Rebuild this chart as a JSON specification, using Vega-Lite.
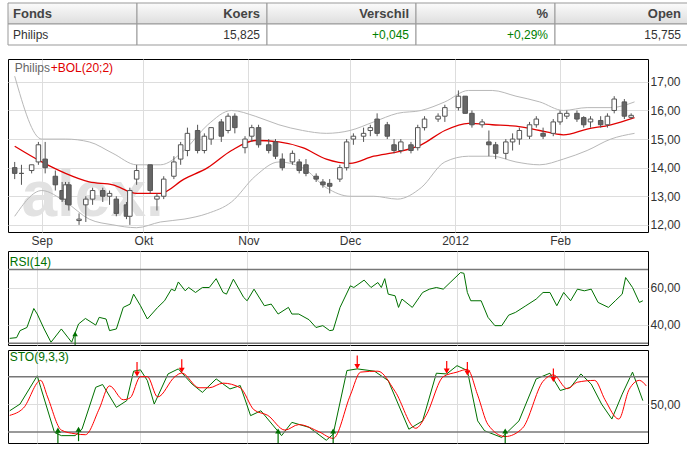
{
  "$schema": "https://vega.github.io/schema/vega-lite/v6.json",
  "description": "Philips koers met Bollinger, RSI en Stochastic",
  "padding": {"left": 6, "top": 2, "right": 0, "bottom": 0},
  "spacing": 3,
  "config": {
    "font": "Liberation Sans",
    "view": {"stroke": "#000"},
    "axis": {"gridColor": "#dddddd", "labelColor": "#333", "labelFontSize": 12, "ticks": false, "domain": false, "title": null, "labelOverlap": false},
    "axisY": {"labelPadding": 2}
  },
  "datasets": {
    "header": [
      {"col": "Fonds", "head": "Fonds", "val": "Philips", "x0": 6, "x1": 135, "color": "#333"},
      {"col": "Koers", "head": "Koers", "val": "15,825", "x0": 135, "x1": 265, "color": "#333"},
      {"col": "Verschil", "head": "Verschil", "val": "+0,045", "x0": 265, "x1": 414, "color": "#008000"},
      {"col": "%", "head": "%", "val": "+0,29%", "x0": 414, "x1": 553, "color": "#008000"},
      {"col": "Open", "head": "Open", "val": "15,755", "x0": 553, "x1": 686, "color": "#333"}
    ],
    "candles": [
      {"date": "2011-08-24", "open": 14.0, "high": 14.2, "low": 13.6, "close": 13.8},
      {"date": "2011-08-26", "open": 13.8, "high": 14.1, "low": 13.4, "close": 13.8},
      {"date": "2011-08-29", "open": 13.9, "high": 14.1, "low": 13.8, "close": 14.1},
      {"date": "2011-08-31", "open": 14.2, "high": 14.9, "low": 14.1, "close": 14.8},
      {"date": "2011-09-02", "open": 14.3, "high": 14.9, "low": 13.8, "close": 14.0},
      {"date": "2011-09-05", "open": 13.7, "high": 13.9, "low": 13.2, "close": 13.4},
      {"date": "2011-09-07", "open": 13.2, "high": 13.5, "low": 12.8, "close": 12.9},
      {"date": "2011-09-08", "open": 12.9, "high": 13.5, "low": 12.7, "close": 13.4},
      {"date": "2011-09-09", "open": 13.4, "high": 13.5, "low": 12.5, "close": 12.7},
      {"date": "2011-09-12", "open": 12.15, "high": 12.4, "low": 12.0, "close": 12.2},
      {"date": "2011-09-14", "open": 12.7, "high": 13.0, "low": 12.1, "close": 12.9},
      {"date": "2011-09-16", "open": 12.9, "high": 13.3, "low": 12.7, "close": 13.2},
      {"date": "2011-09-19", "open": 13.2, "high": 13.3, "low": 12.8, "close": 13.0},
      {"date": "2011-09-21", "open": 13.0, "high": 13.2, "low": 12.7, "close": 13.1},
      {"date": "2011-09-23", "open": 12.9, "high": 13.0, "low": 12.3, "close": 12.4},
      {"date": "2011-09-26", "open": 12.7, "high": 12.8, "low": 12.2, "close": 12.3},
      {"date": "2011-09-27", "open": 12.3, "high": 13.3, "low": 12.0, "close": 13.2},
      {"date": "2011-09-29", "open": 13.6, "high": 14.1, "low": 13.4, "close": 13.9},
      {"date": "2011-10-03", "open": 14.1, "high": 14.1, "low": 13.1, "close": 13.2},
      {"date": "2011-10-05", "open": 12.9, "high": 13.1, "low": 12.5, "close": 13.0},
      {"date": "2011-10-07", "open": 13.0, "high": 13.7, "low": 12.9, "close": 13.6},
      {"date": "2011-10-10", "open": 13.7, "high": 14.4, "low": 13.6, "close": 14.2},
      {"date": "2011-10-12", "open": 14.3, "high": 14.9, "low": 14.1, "close": 14.8},
      {"date": "2011-10-14", "open": 14.6, "high": 15.4, "low": 14.4, "close": 15.2},
      {"date": "2011-10-17", "open": 15.3, "high": 15.5, "low": 14.5, "close": 14.6},
      {"date": "2011-10-19", "open": 14.6, "high": 15.2, "low": 14.5, "close": 15.1},
      {"date": "2011-10-21", "open": 15.0, "high": 15.4, "low": 14.8, "close": 15.4},
      {"date": "2011-10-24", "open": 15.6, "high": 15.7, "low": 14.9, "close": 15.1},
      {"date": "2011-10-26", "open": 15.3, "high": 15.9, "low": 15.2, "close": 15.8},
      {"date": "2011-10-28", "open": 15.8, "high": 15.9, "low": 15.2, "close": 15.4},
      {"date": "2011-10-31", "open": 14.7, "high": 15.1, "low": 14.5, "close": 15.0},
      {"date": "2011-11-02", "open": 15.1, "high": 15.5, "low": 14.9, "close": 15.4},
      {"date": "2011-11-04", "open": 15.4, "high": 15.5, "low": 14.7, "close": 14.8},
      {"date": "2011-11-07", "open": 14.8, "high": 15.0, "low": 14.5, "close": 14.6},
      {"date": "2011-11-09", "open": 14.9, "high": 15.0, "low": 14.3, "close": 14.4},
      {"date": "2011-11-11", "open": 14.3, "high": 14.5, "low": 13.9, "close": 14.0},
      {"date": "2011-11-14", "open": 14.2, "high": 14.6, "low": 14.1, "close": 14.5},
      {"date": "2011-11-16", "open": 14.2, "high": 14.3, "low": 13.8, "close": 13.9},
      {"date": "2011-11-18", "open": 14.1, "high": 14.3, "low": 13.7, "close": 13.8},
      {"date": "2011-11-21", "open": 13.7, "high": 13.8, "low": 13.5, "close": 13.6},
      {"date": "2011-11-23", "open": 13.5, "high": 13.6, "low": 13.3, "close": 13.4},
      {"date": "2011-11-25", "open": 13.45, "high": 13.6, "low": 13.1, "close": 13.35},
      {"date": "2011-11-28", "open": 13.6, "high": 14.1, "low": 13.5, "close": 14.0},
      {"date": "2011-11-30", "open": 14.0, "high": 15.0, "low": 13.9, "close": 14.9},
      {"date": "2011-12-02", "open": 15.0, "high": 15.2, "low": 14.8, "close": 15.1},
      {"date": "2011-12-05", "open": 15.1, "high": 15.4, "low": 14.9, "close": 15.2},
      {"date": "2011-12-07", "open": 15.3, "high": 15.5, "low": 15.1, "close": 15.4},
      {"date": "2011-12-09", "open": 15.7, "high": 15.9, "low": 15.1, "close": 15.2},
      {"date": "2011-12-12", "open": 15.5, "high": 15.6, "low": 15.0, "close": 15.1},
      {"date": "2011-12-14", "open": 14.8, "high": 15.0, "low": 14.5, "close": 14.6},
      {"date": "2011-12-16", "open": 14.6, "high": 15.0, "low": 14.5, "close": 14.9},
      {"date": "2011-12-19", "open": 14.8, "high": 14.9, "low": 14.5, "close": 14.6},
      {"date": "2011-12-21", "open": 14.7, "high": 15.5, "low": 14.6, "close": 15.4},
      {"date": "2011-12-23", "open": 15.4, "high": 15.8, "low": 15.3, "close": 15.7},
      {"date": "2011-12-27", "open": 15.7, "high": 15.9, "low": 15.6, "close": 15.8},
      {"date": "2011-12-29", "open": 15.8, "high": 16.2, "low": 15.6, "close": 16.1},
      {"date": "2012-01-02", "open": 16.1, "high": 16.7, "low": 16.0, "close": 16.5},
      {"date": "2012-01-04", "open": 16.5, "high": 16.5, "low": 15.9, "close": 15.9},
      {"date": "2012-01-06", "open": 15.9, "high": 16.0, "low": 15.4, "close": 15.5},
      {"date": "2012-01-09", "open": 15.5, "high": 15.7, "low": 15.4, "close": 15.6},
      {"date": "2012-01-11", "open": 14.9, "high": 15.3, "low": 14.4, "close": 14.8},
      {"date": "2012-01-13", "open": 14.8, "high": 14.9, "low": 14.3, "close": 14.5},
      {"date": "2012-01-16", "open": 14.5, "high": 15.0, "low": 14.3, "close": 14.9},
      {"date": "2012-01-18", "open": 14.9, "high": 15.2, "low": 14.6, "close": 15.0},
      {"date": "2012-01-20", "open": 15.0, "high": 15.4, "low": 14.8, "close": 15.3},
      {"date": "2012-01-23", "open": 15.1, "high": 15.6, "low": 15.0, "close": 15.5},
      {"date": "2012-01-25", "open": 15.5, "high": 15.8, "low": 15.4, "close": 15.7},
      {"date": "2012-01-27", "open": 15.2, "high": 15.4, "low": 15.0, "close": 15.1},
      {"date": "2012-01-30", "open": 15.2, "high": 15.7, "low": 15.1, "close": 15.6},
      {"date": "2012-02-01", "open": 15.6, "high": 16.0, "low": 15.5, "close": 15.9},
      {"date": "2012-02-03", "open": 15.8, "high": 16.0, "low": 15.7, "close": 15.9},
      {"date": "2012-02-06", "open": 15.9, "high": 16.0, "low": 15.6, "close": 15.7},
      {"date": "2012-02-08", "open": 15.75, "high": 15.8, "low": 15.4, "close": 15.5},
      {"date": "2012-02-10", "open": 15.6, "high": 15.8, "low": 15.4, "close": 15.7},
      {"date": "2012-02-13", "open": 15.65, "high": 15.8, "low": 15.4, "close": 15.5},
      {"date": "2012-02-15", "open": 15.5, "high": 15.9, "low": 15.4, "close": 15.8},
      {"date": "2012-02-17", "open": 16.0, "high": 16.5, "low": 15.9, "close": 16.4},
      {"date": "2012-02-20", "open": 16.3, "high": 16.4, "low": 15.7, "close": 15.8},
      {"date": "2012-02-22", "open": 15.76, "high": 15.9, "low": 15.7, "close": 15.83}
    ],
    "bol": [
      {"date": "2011-08-24", "mid": 14.75, "upper": 17.2, "lower": 12.3},
      {"date": "2011-09-01", "mid": 14.2, "upper": 15.0, "lower": 13.2},
      {"date": "2011-09-08", "mid": 13.8, "upper": 15.0, "lower": 12.8},
      {"date": "2011-09-15", "mid": 13.5, "upper": 14.9, "lower": 12.2},
      {"date": "2011-09-22", "mid": 13.4, "upper": 14.5, "lower": 12.0},
      {"date": "2011-09-29", "mid": 13.1, "upper": 14.1, "lower": 11.9},
      {"date": "2011-10-06", "mid": 13.1, "upper": 14.1, "lower": 12.1},
      {"date": "2011-10-13", "mid": 13.6, "upper": 14.6, "lower": 12.2},
      {"date": "2011-10-20", "mid": 14.0, "upper": 15.5, "lower": 12.4},
      {"date": "2011-10-27", "mid": 14.6, "upper": 16.0, "lower": 12.8},
      {"date": "2011-11-03", "mid": 14.95, "upper": 15.8, "lower": 13.7},
      {"date": "2011-11-10", "mid": 14.9, "upper": 15.5, "lower": 14.2},
      {"date": "2011-11-17", "mid": 14.7, "upper": 15.3, "lower": 14.0},
      {"date": "2011-11-24", "mid": 14.3, "upper": 15.2, "lower": 13.3},
      {"date": "2011-12-01", "mid": 14.15, "upper": 15.3, "lower": 13.0},
      {"date": "2011-12-08", "mid": 14.4, "upper": 15.6, "lower": 13.0},
      {"date": "2011-12-15", "mid": 14.55, "upper": 15.9, "lower": 12.9},
      {"date": "2011-12-22", "mid": 14.8, "upper": 16.0, "lower": 13.3},
      {"date": "2011-12-29", "mid": 15.3, "upper": 16.3, "lower": 14.2},
      {"date": "2012-01-05", "mid": 15.55, "upper": 16.7, "lower": 14.4},
      {"date": "2012-01-12", "mid": 15.5, "upper": 16.7, "lower": 14.4},
      {"date": "2012-01-19", "mid": 15.45, "upper": 16.5, "lower": 14.2},
      {"date": "2012-01-26", "mid": 15.3, "upper": 16.3, "lower": 14.1},
      {"date": "2012-02-02", "mid": 15.15, "upper": 16.0, "lower": 14.3},
      {"date": "2012-02-09", "mid": 15.35, "upper": 16.1, "lower": 14.6},
      {"date": "2012-02-16", "mid": 15.5, "upper": 16.1, "lower": 15.0},
      {"date": "2012-02-23", "mid": 15.75, "upper": 16.3, "lower": 15.2}
    ],
    "rsi": [
      {"date": "2011-08-24", "rsi": 32.6}, {"date": "2011-08-26", "rsi": 33}, {"date": "2011-08-27", "rsi": 36.8},
      {"date": "2011-08-29", "rsi": 38.5}, {"date": "2011-08-31", "rsi": 48.8}, {"date": "2011-09-01", "rsi": 45.8},
      {"date": "2011-09-03", "rsi": 37.7}, {"date": "2011-09-05", "rsi": 30.5}, {"date": "2011-09-08", "rsi": 37.7},
      {"date": "2011-09-10", "rsi": 32.9}, {"date": "2011-09-11", "rsi": 30.5}, {"date": "2011-09-13", "rsi": 40.4},
      {"date": "2011-09-15", "rsi": 43.4}, {"date": "2011-09-18", "rsi": 39.8}, {"date": "2011-09-19", "rsi": 44},
      {"date": "2011-09-21", "rsi": 43.1}, {"date": "2011-09-22", "rsi": 36.8}, {"date": "2011-09-24", "rsi": 37.7},
      {"date": "2011-09-26", "rsi": 49.4}, {"date": "2011-09-28", "rsi": 51.2}, {"date": "2011-09-29", "rsi": 56.6},
      {"date": "2011-10-01", "rsi": 50.3}, {"date": "2011-10-03", "rsi": 43.1}, {"date": "2011-10-06", "rsi": 49.4},
      {"date": "2011-10-08", "rsi": 53}, {"date": "2011-10-10", "rsi": 59.3}, {"date": "2011-10-11", "rsi": 58.4},
      {"date": "2011-10-12", "rsi": 63.2}, {"date": "2011-10-14", "rsi": 58.4}, {"date": "2011-10-15", "rsi": 60.2},
      {"date": "2011-10-17", "rsi": 57.5}, {"date": "2011-10-19", "rsi": 60.2}, {"date": "2011-10-21", "rsi": 60.2},
      {"date": "2011-10-23", "rsi": 65}, {"date": "2011-10-25", "rsi": 57.5}, {"date": "2011-10-26", "rsi": 56.6},
      {"date": "2011-10-28", "rsi": 64.7}, {"date": "2011-10-31", "rsi": 54.8}, {"date": "2011-11-01", "rsi": 53},
      {"date": "2011-11-03", "rsi": 59.3}, {"date": "2011-11-06", "rsi": 50.3}, {"date": "2011-11-08", "rsi": 51.2},
      {"date": "2011-11-10", "rsi": 45.8}, {"date": "2011-11-13", "rsi": 49.4}, {"date": "2011-11-14", "rsi": 45.8},
      {"date": "2011-11-16", "rsi": 45.8}, {"date": "2011-11-19", "rsi": 42.7}, {"date": "2011-11-21", "rsi": 38.5},
      {"date": "2011-11-23", "rsi": 39.5}, {"date": "2011-11-25", "rsi": 36.8}, {"date": "2011-11-26", "rsi": 37.1},
      {"date": "2011-11-28", "rsi": 49.4}, {"date": "2011-12-01", "rsi": 61.1}, {"date": "2011-12-02", "rsi": 60.2},
      {"date": "2011-12-05", "rsi": 64.2}, {"date": "2011-12-07", "rsi": 60.2}, {"date": "2011-12-09", "rsi": 62.9},
      {"date": "2011-12-10", "rsi": 60.2}, {"date": "2011-12-11", "rsi": 65}, {"date": "2011-12-12", "rsi": 56.6},
      {"date": "2011-12-14", "rsi": 55.7}, {"date": "2011-12-15", "rsi": 49.4}, {"date": "2011-12-16", "rsi": 53.9},
      {"date": "2011-12-19", "rsi": 49.4}, {"date": "2011-12-21", "rsi": 54.8}, {"date": "2011-12-22", "rsi": 57.5},
      {"date": "2011-12-24", "rsi": 59.3}, {"date": "2011-12-26", "rsi": 60.2}, {"date": "2011-12-28", "rsi": 59.3},
      {"date": "2011-12-30", "rsi": 62.9}, {"date": "2012-01-02", "rsi": 68.3}, {"date": "2012-01-03", "rsi": 67.9},
      {"date": "2012-01-04", "rsi": 57.5}, {"date": "2012-01-05", "rsi": 53}, {"date": "2012-01-08", "rsi": 53},
      {"date": "2012-01-10", "rsi": 44}, {"date": "2012-01-12", "rsi": 39.5}, {"date": "2012-01-14", "rsi": 39.5},
      {"date": "2012-01-16", "rsi": 45.2}, {"date": "2012-01-18", "rsi": 46.7}, {"date": "2012-01-21", "rsi": 50.3},
      {"date": "2012-01-24", "rsi": 53.9}, {"date": "2012-01-26", "rsi": 57.5}, {"date": "2012-01-28", "rsi": 57.5},
      {"date": "2012-01-30", "rsi": 50.3}, {"date": "2012-02-01", "rsi": 57.5}, {"date": "2012-02-03", "rsi": 53},
      {"date": "2012-02-05", "rsi": 59.3}, {"date": "2012-02-07", "rsi": 58.4}, {"date": "2012-02-09", "rsi": 59.3},
      {"date": "2012-02-11", "rsi": 52.1}, {"date": "2012-02-14", "rsi": 49.4}, {"date": "2012-02-16", "rsi": 53},
      {"date": "2012-02-18", "rsi": 56.6}, {"date": "2012-02-19", "rsi": 65.6}, {"date": "2012-02-21", "rsi": 60.2},
      {"date": "2012-02-23", "rsi": 52.1}, {"date": "2012-02-24", "rsi": 53}
    ],
    "stok": [
      {"date": "2011-08-24", "v": 43}, {"date": "2011-08-27", "v": 50.3}, {"date": "2011-09-01", "v": 81},
      {"date": "2011-09-02", "v": 68.5}, {"date": "2011-09-06", "v": 19.5}, {"date": "2011-09-08", "v": 16},
      {"date": "2011-09-12", "v": 16}, {"date": "2011-09-14", "v": 23}, {"date": "2011-09-18", "v": 68.5},
      {"date": "2011-09-20", "v": 71.5}, {"date": "2011-09-24", "v": 46.7}, {"date": "2011-09-27", "v": 54},
      {"date": "2011-09-29", "v": 86}, {"date": "2011-10-01", "v": 87.4}, {"date": "2011-10-03", "v": 75.8},
      {"date": "2011-10-05", "v": 50.3}, {"date": "2011-10-09", "v": 83}, {"date": "2011-10-12", "v": 88.5},
      {"date": "2011-10-16", "v": 72}, {"date": "2011-10-19", "v": 63}, {"date": "2011-10-23", "v": 77.6},
      {"date": "2011-10-27", "v": 66.7}, {"date": "2011-10-30", "v": 70.4}, {"date": "2011-11-02", "v": 37.7},
      {"date": "2011-11-05", "v": 43}, {"date": "2011-11-11", "v": 16}, {"date": "2011-11-14", "v": 30.4},
      {"date": "2011-11-19", "v": 25}, {"date": "2011-11-24", "v": 11}, {"date": "2011-11-26", "v": 17.6},
      {"date": "2011-11-30", "v": 86.7}, {"date": "2011-12-03", "v": 88.5}, {"date": "2011-12-08", "v": 86},
      {"date": "2011-12-12", "v": 75.8}, {"date": "2011-12-18", "v": 23}, {"date": "2011-12-22", "v": 32},
      {"date": "2011-12-26", "v": 83.8}, {"date": "2011-12-29", "v": 83}, {"date": "2012-01-01", "v": 92},
      {"date": "2012-01-04", "v": 86.7}, {"date": "2012-01-07", "v": 32}, {"date": "2012-01-09", "v": 21.3},
      {"date": "2012-01-14", "v": 14}, {"date": "2012-01-19", "v": 32}, {"date": "2012-01-24", "v": 77.6},
      {"date": "2012-01-28", "v": 83.8}, {"date": "2012-01-31", "v": 65}, {"date": "2012-02-03", "v": 68.5},
      {"date": "2012-02-06", "v": 83}, {"date": "2012-02-09", "v": 72}, {"date": "2012-02-12", "v": 50.3},
      {"date": "2012-02-15", "v": 34}, {"date": "2012-02-18", "v": 61}, {"date": "2012-02-21", "v": 85},
      {"date": "2012-02-24", "v": 54}
    ],
    "stod": [
      {"date": "2011-08-24", "v": 38}, {"date": "2011-08-28", "v": 46}, {"date": "2011-09-02", "v": 76},
      {"date": "2011-09-04", "v": 58}, {"date": "2011-09-08", "v": 22}, {"date": "2011-09-12", "v": 18},
      {"date": "2011-09-15", "v": 17}, {"date": "2011-09-19", "v": 45}, {"date": "2011-09-22", "v": 70},
      {"date": "2011-09-26", "v": 55}, {"date": "2011-09-28", "v": 57}, {"date": "2011-10-01", "v": 80},
      {"date": "2011-10-03", "v": 80}, {"date": "2011-10-06", "v": 58}, {"date": "2011-10-11", "v": 80},
      {"date": "2011-10-13", "v": 84}, {"date": "2011-10-18", "v": 68}, {"date": "2011-10-21", "v": 68},
      {"date": "2011-10-25", "v": 73}, {"date": "2011-10-30", "v": 68}, {"date": "2011-11-03", "v": 44},
      {"date": "2011-11-07", "v": 38}, {"date": "2011-11-12", "v": 22}, {"date": "2011-11-16", "v": 28},
      {"date": "2011-11-22", "v": 20}, {"date": "2011-11-26", "v": 13}, {"date": "2011-12-01", "v": 60},
      {"date": "2011-12-04", "v": 85}, {"date": "2011-12-09", "v": 86}, {"date": "2011-12-14", "v": 64},
      {"date": "2011-12-20", "v": 24}, {"date": "2011-12-23", "v": 38}, {"date": "2011-12-28", "v": 80},
      {"date": "2012-01-01", "v": 85}, {"date": "2012-01-04", "v": 88}, {"date": "2012-01-07", "v": 60},
      {"date": "2012-01-10", "v": 28}, {"date": "2012-01-15", "v": 15}, {"date": "2012-01-20", "v": 24},
      {"date": "2012-01-26", "v": 75}, {"date": "2012-01-29", "v": 82}, {"date": "2012-02-02", "v": 67},
      {"date": "2012-02-05", "v": 74}, {"date": "2012-02-10", "v": 76}, {"date": "2012-02-13", "v": 55},
      {"date": "2012-02-17", "v": 34}, {"date": "2012-02-20", "v": 66}, {"date": "2012-02-23", "v": 76},
      {"date": "2012-02-25", "v": 70}
    ],
    "arrows": [
      {"date": "2011-09-30", "tip": 83, "tail": 96, "dir": "down"},
      {"date": "2011-10-13", "tip": 87, "tail": 99, "dir": "down"},
      {"date": "2011-12-03", "tip": 91, "tail": 103, "dir": "down"},
      {"date": "2011-12-29", "tip": 86, "tail": 97, "dir": "down"},
      {"date": "2012-01-04", "tip": 84, "tail": 96, "dir": "down"},
      {"date": "2012-01-29", "tip": 77, "tail": 89, "dir": "down"},
      {"date": "2011-09-07", "tip": 22, "tail": 8, "dir": "up"},
      {"date": "2011-09-13", "tip": 23, "tail": 10, "dir": "up"},
      {"date": "2011-11-10", "tip": 21, "tail": 8, "dir": "up"},
      {"date": "2011-11-26", "tip": 21, "tail": 8, "dir": "up"},
      {"date": "2012-01-15", "tip": 21, "tail": 8, "dir": "up"}
    ]
  },
  "vconcat": [
    {
      "width": 680,
      "height": 52,
      "view": {"stroke": null},
      "data": {"name": "header"},
      "layer": [
        {
          "mark": {"type": "rect", "stroke": "#999", "strokeWidth": 1,
            "fill": {"gradient": "linear", "x1": 0, "y1": 0, "x2": 0, "y2": 1,
              "stops": [{"offset": 0, "color": "#fbfbfb"}, {"offset": 1, "color": "#dedede"}]}},
          "encoding": {
            "x": {"field": "x0", "type": "quantitative", "scale": {"domain": [6, 686], "nice": false, "zero": false}, "axis": null},
            "x2": {"field": "x1"},
            "y": {"datum": 0, "type": "quantitative", "scale": {"domain": [0, 52], "nice": false, "reverse": true}, "axis": null},
            "y2": {"datum": 21}
          }
        },
        {
          "mark": {"type": "rect", "stroke": "#999", "strokeWidth": 1, "fill": "#fff"},
          "encoding": {
            "x": {"field": "x0", "type": "quantitative"},
            "x2": {"field": "x1"},
            "y": {"datum": 21, "type": "quantitative"},
            "y2": {"datum": 42}
          }
        },
        {
          "transform": [{"filter": "datum.col === 'Fonds'"}],
          "mark": {"type": "text", "align": "left", "dx": 5, "fontSize": 13, "fontWeight": "bold", "color": "#444"},
          "encoding": {"x": {"field": "x0", "type": "quantitative"}, "text": {"field": "head"}, "y": {"datum": 10.5, "type": "quantitative"}}
        },
        {
          "transform": [{"filter": "datum.col === 'Fonds'"}],
          "mark": {"type": "text", "align": "left", "dx": 5, "fontSize": 12, "color": "#333"},
          "encoding": {"x": {"field": "x0", "type": "quantitative"}, "text": {"field": "val"}, "y": {"datum": 31.5, "type": "quantitative"}}
        },
        {
          "transform": [{"filter": "datum.col !== 'Fonds'"}],
          "mark": {"type": "text", "align": "right", "dx": -7, "fontSize": 13, "fontWeight": "bold", "color": "#444"},
          "encoding": {"x": {"field": "x1", "type": "quantitative"}, "text": {"field": "head"}, "y": {"datum": 10.5, "type": "quantitative"}}
        },
        {
          "transform": [{"filter": "datum.col !== 'Fonds'"}],
          "mark": {"type": "text", "align": "right", "dx": -7, "fontSize": 12},
          "encoding": {"x": {"field": "x1", "type": "quantitative"}, "text": {"field": "val"}, "y": {"datum": 31.5, "type": "quantitative"},
            "color": {"field": "color", "type": "nominal", "scale": null}}
        }
      ]
    },
    {
      "width": 640,
      "height": 173,
      "layer": [
        {
          "data": {"values": [{"date": "2011-09-16", "price": 12.3, "label": "alex."}]},
          "mark": {"type": "text", "fontSize": 64, "fontWeight": "bold", "font": "Liberation Sans", "color": "#e2e2e2", "baseline": "alphabetic"},
          "encoding": {
            "x": {"field": "date", "type": "temporal",
              "scale": {"type": "utc", "domain": [{"year": 2011, "month": 8, "date": 23, "hours": 12, "utc": true}, {"year": 2012, "month": 2, "date": 25, "hours": 12, "utc": true}]},
              "axis": {"orient": "bottom", "grid": true, "tickCount": {"interval": "month", "step": 1},
                "labelFlush": false, "labelAlign": "center", "labelPadding": 3,
                "labelExpr": "utcFormat(datum.value, '%m') == '01' ? utcFormat(datum.value, '%Y') : replace(utcFormat(datum.value, '%b'), 'Oct', 'Okt')"}},
            "y": {"field": "price", "type": "quantitative", "scale": {"domain": [11.75, 17.8], "nice": false, "zero": false},
              "axis": {"orient": "right", "grid": true, "values": [12, 13, 14, 15, 16, 17],
                "labelExpr": "replace(format(datum.value, '.2f'), '.', ',')"}},
            "text": {"field": "label"}
          }
        },
        {
          "data": {"name": "bol"},
          "mark": {"type": "line", "color": "#b8b8b8", "strokeWidth": 1, "interpolate": "monotone"},
          "encoding": {"x": {"field": "date", "type": "temporal"},
            "y": {"field": "upper", "type": "quantitative", "axis": {"orient": "right", "grid": true, "values": [12, 13, 14, 15, 16, 17], "labelExpr": "replace(format(datum.value, '.2f'), '.', ',')"}}}
        },
        {
          "data": {"name": "bol"},
          "mark": {"type": "line", "color": "#b8b8b8", "strokeWidth": 1, "interpolate": "monotone"},
          "encoding": {"x": {"field": "date", "type": "temporal"},
            "y": {"field": "lower", "type": "quantitative", "axis": {"orient": "right", "grid": true, "values": [12, 13, 14, 15, 16, 17], "labelExpr": "replace(format(datum.value, '.2f'), '.', ',')"}}}
        },
        {
          "data": {"name": "bol"},
          "mark": {"type": "line", "color": "#e00000", "strokeWidth": 1.3, "interpolate": "monotone"},
          "encoding": {"x": {"field": "date", "type": "temporal"},
            "y": {"field": "mid", "type": "quantitative", "axis": {"orient": "right", "grid": true, "values": [12, 13, 14, 15, 16, 17], "labelExpr": "replace(format(datum.value, '.2f'), '.', ',')"}}}
        },
        {
          "data": {"name": "candles"},
          "mark": {"type": "rule", "color": "#555"},
          "encoding": {"x": {"field": "date", "type": "temporal"},
            "y": {"field": "low", "type": "quantitative", "axis": {"orient": "right", "grid": true, "values": [12, 13, 14, 15, 16, 17], "labelExpr": "replace(format(datum.value, '.2f'), '.', ',')"}},
            "y2": {"field": "high"}}
        },
        {
          "data": {"name": "candles"},
          "mark": {"type": "bar", "width": 4.5, "stroke": "#555", "strokeWidth": 1},
          "encoding": {"x": {"field": "date", "type": "temporal"},
            "y": {"field": "open", "type": "quantitative", "axis": {"orient": "right", "grid": true, "values": [12, 13, 14, 15, 16, 17], "labelExpr": "replace(format(datum.value, '.2f'), '.', ',')"}},
            "y2": {"field": "close"},
            "fill": {"condition": {"test": "datum.close < datum.open", "value": "#666"}, "value": "#fff"}}
        },
        {
          "data": {"values": [{"date": "2011-08-24", "price": 17.5}]},
          "mark": {"type": "text", "align": "left", "fontSize": 12, "color": "#666"},
          "encoding": {"x": {"field": "date", "type": "temporal"},
            "y": {"field": "price", "type": "quantitative", "axis": {"orient": "right", "grid": true, "values": [12, 13, 14, 15, 16, 17], "labelExpr": "replace(format(datum.value, '.2f'), '.', ',')"}},
            "text": {"value": "Philips"}}
        },
        {
          "data": {"values": [{"date": "2011-08-24", "price": 17.5}]},
          "mark": {"type": "text", "align": "left", "dx": 36, "fontSize": 12, "color": "#e00000"},
          "encoding": {"x": {"field": "date", "type": "temporal"},
            "y": {"field": "price", "type": "quantitative", "axis": {"orient": "right", "grid": true, "values": [12, 13, 14, 15, 16, 17], "labelExpr": "replace(format(datum.value, '.2f'), '.', ',')"}},
            "text": {"value": "+BOL(20;2)"}}
        }
      ]
    },
    {
      "width": 640,
      "height": 94,
      "layer": [
        {
          "data": {"name": "rsi"},
          "mark": {"type": "line", "color": "#007000", "strokeWidth": 1},
          "encoding": {
            "x": {"field": "date", "type": "temporal",
              "scale": {"type": "utc", "domain": [{"year": 2011, "month": 8, "date": 23, "hours": 12, "utc": true}, {"year": 2012, "month": 2, "date": 25, "hours": 12, "utc": true}]},
              "axis": {"grid": true, "labels": false, "tickCount": {"interval": "month", "step": 1}}},
            "y": {"field": "rsi", "type": "quantitative", "scale": {"domain": [29, 80], "nice": false, "zero": false},
              "axis": {"orient": "right", "grid": true, "values": [40, 60],
                "labelExpr": "replace(format(datum.value, '.2f'), '.', ',')"}}
          }
        },
        {
          "data": {"values": [{"lvl": 30}, {"lvl": 70}]},
          "mark": {"type": "rule", "color": "#777", "strokeWidth": 1.5},
          "encoding": {"y": {"field": "lvl", "type": "quantitative"}}
        },
        {
          "data": {"values": [{"date": "2011-09-12", "tip": 35, "tail": 29}]},
          "mark": {"type": "rule", "color": "#007000"},
          "encoding": {"x": {"field": "date", "type": "temporal"}, "y": {"field": "tip", "type": "quantitative"}, "y2": {"field": "tail"}}
        },
        {
          "data": {"values": [{"date": "2011-09-12", "tip": 35, "tail": 29}]},
          "mark": {"type": "point", "shape": "triangle-up", "filled": true, "size": 30, "color": "#007000", "opacity": 1},
          "encoding": {"x": {"field": "date", "type": "temporal"}, "y": {"field": "tip", "type": "quantitative"}}
        },
        {
          "data": {"values": [{"date": "2011-08-24", "v": 74}]},
          "mark": {"type": "text", "align": "left", "fontSize": 12, "color": "#007000"},
          "encoding": {"x": {"field": "date", "type": "temporal"}, "y": {"field": "v", "type": "quantitative"}, "text": {"value": "RSI(14)"}}
        }
      ]
    },
    {
      "width": 640,
      "height": 93,
      "layer": [
        {
          "data": {"name": "stok"},
          "mark": {"type": "line", "color": "#007000", "strokeWidth": 1},
          "encoding": {
            "x": {"field": "date", "type": "temporal",
              "scale": {"type": "utc", "domain": [{"year": 2011, "month": 8, "date": 23, "hours": 12, "utc": true}, {"year": 2012, "month": 2, "date": 25, "hours": 12, "utc": true}]},
              "axis": {"grid": true, "labels": false, "tickCount": {"interval": "month", "step": 1}}},
            "y": {"field": "v", "type": "quantitative", "scale": {"domain": [8, 109], "nice": false, "zero": false},
              "axis": {"orient": "right", "grid": true, "values": [50],
                "labelExpr": "replace(format(datum.value, '.2f'), '.', ',')"}}
          }
        },
        {
          "data": {"values": [{"lvl": 20}, {"lvl": 80}]},
          "mark": {"type": "rule", "color": "#777", "strokeWidth": 1.5},
          "encoding": {"y": {"field": "lvl", "type": "quantitative"}}
        },
        {
          "data": {"name": "stod"},
          "mark": {"type": "line", "color": "#ff0000", "strokeWidth": 1, "interpolate": "monotone"},
          "encoding": {"x": {"field": "date", "type": "temporal"}, "y": {"field": "v", "type": "quantitative"}}
        },
        {
          "data": {"name": "arrows"},
          "mark": {"type": "rule", "strokeWidth": 1.2},
          "encoding": {"x": {"field": "date", "type": "temporal"}, "y": {"field": "tip", "type": "quantitative"}, "y2": {"field": "tail"},
            "color": {"field": "dir", "type": "nominal", "scale": {"domain": ["down", "up"], "range": ["#ff0000", "#007000"]}, "legend": null}}
        },
        {
          "data": {"name": "arrows"},
          "mark": {"type": "point", "filled": true, "size": 35, "opacity": 1},
          "encoding": {"x": {"field": "date", "type": "temporal"}, "y": {"field": "tip", "type": "quantitative"},
            "shape": {"field": "dir", "type": "nominal", "scale": {"domain": ["down", "up"], "range": ["triangle-down", "triangle-up"]}, "legend": null},
            "color": {"field": "dir", "type": "nominal", "legend": null}}
        },
        {
          "data": {"values": [{"date": "2011-08-24", "v": 101}]},
          "mark": {"type": "text", "align": "left", "fontSize": 12, "color": "#007000"},
          "encoding": {"x": {"field": "date", "type": "temporal"}, "y": {"field": "v", "type": "quantitative"}, "text": {"value": "STO(9,3,3)"}}
        }
      ]
    }
  ]
}
